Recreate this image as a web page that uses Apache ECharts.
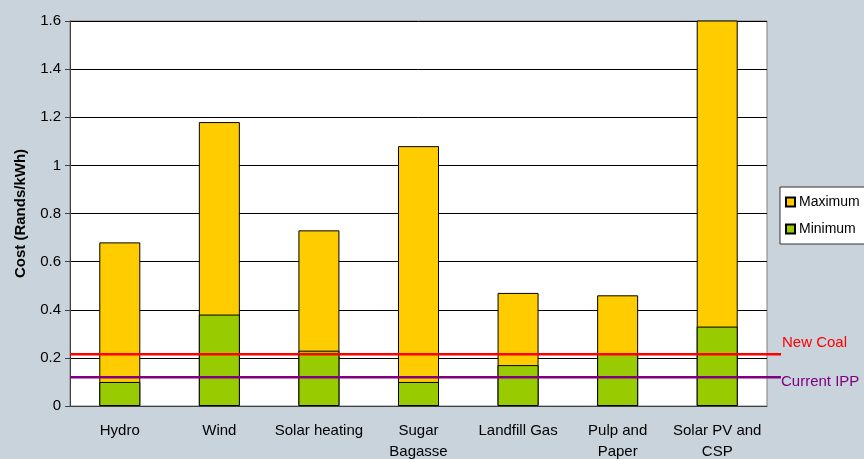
<!DOCTYPE html>
<html>
<head>
<meta charset="utf-8">
<script src="https://cdn.jsdelivr.net/npm/echarts@6/dist/echarts.min.js"></script>
<style>
html,body{margin:0;padding:0;background:#C8D3DB;}
#chart{width:864px;height:459px;}
</style>
</head>
<body>
<div id="chart"></div>
<script>
const categories = ['Hydro', 'Wind', 'Solar heating', 'Sugar\nBagasse', 'Landfill Gas', 'Pulp and\nPaper', 'Solar PV and\nCSP'];
const maximumValues = [0.68, 1.18, 0.73, 1.08, 0.47, 0.46, 1.9];
const minimumValues = [0.10, 0.38, 0.23, 0.10, 0.17, 0.22, 0.33];
const newCoal = 0.215;
const currentIPP = 0.12;
const yTicks = { min: 0, max: 1.6, interval: 0.2 };

const FONT = '"Liberation Sans", Arial, sans-serif';
const chart = echarts.init(document.getElementById('chart'));
chart.setOption({
  animation: false,
  backgroundColor: '#C8D3DB',
  textStyle: { fontFamily: FONT, color: '#000' },
  grid: [
    { left: 70, right: 97, top: 21, bottom: 53, show: true, backgroundColor: '#fff', borderColor: '#808080', borderWidth: 1, outerBoundsMode: 'none', containLabel: false },
    { left: 70, right: 83, top: 21, bottom: 53, outerBoundsMode: 'none', containLabel: false }
  ],
  legend: {
    data: ['Maximum', 'Minimum'],
    orient: 'vertical',
    left: 780, top: 187,
    padding: [8, 8, 8, 5],
    backgroundColor: '#fff',
    borderColor: '#333',
    borderWidth: 1,
    borderRadius: 0,
    itemWidth: 9, itemHeight: 9,
    itemGap: 13,
    icon: 'rect',
    textStyle: { fontFamily: FONT, fontSize: 14, color: '#000', padding: [0, 0, 0, -1] }
  },
  xAxis: [
    {
      type: 'category', data: categories, gridIndex: 0,
      axisLine: { lineStyle: { color: '#404040', width: 1 } },
      axisTick: { show: false },
      axisLabel: { fontFamily: FONT, fontSize: 15, color: '#000', margin: 14, lineHeight: 21, interval: 0 }
    },
    { type: 'value', gridIndex: 1, min: 0, max: 1, show: false }
  ],
  yAxis: [
    {
      type: 'value', gridIndex: 0, min: yTicks.min, max: yTicks.max, interval: yTicks.interval,
      name: 'Cost (Rands/kWh)', nameLocation: 'middle', nameGap: 42, nameRotate: 90,
      nameTextStyle: { fontFamily: FONT, fontSize: 15, fontWeight: 'bold', color: '#000' },
      axisLine: { show: true, lineStyle: { color: '#404040', width: 1 } },
      axisTick: { show: true, length: 5, lineStyle: { color: '#404040' } },
      axisLabel: { fontFamily: FONT, fontSize: 15, color: '#000', margin: 9,
        formatter: v => String(Math.round(v * 10) / 10) },
      splitLine: { show: true, lineStyle: { color: '#000', width: 1 } }
    },
    { type: 'value', gridIndex: 1, min: yTicks.min, max: yTicks.max, show: false }
  ],
  series: [
    {
      name: 'Maximum', type: 'bar', data: maximumValues, barWidth: 41, barGap: '-100%',
      xAxisIndex: 0, yAxisIndex: 0, clip: true, z: 2,
      itemStyle: { color: '#FFCC00', borderColor: '#000', borderWidth: 1 }
    },
    {
      name: 'Minimum', type: 'bar', data: minimumValues, barWidth: 41,
      xAxisIndex: 0, yAxisIndex: 0, clip: true, z: 3,
      itemStyle: { color: '#99CC00', borderColor: '#000', borderWidth: 1 }
    },
    {
      name: 'New Coal', type: 'line', xAxisIndex: 1, yAxisIndex: 1, z: 10,
      data: [[0, newCoal], [1, newCoal]], symbol: 'none',
      lineStyle: { color: '#FF0000', width: 2.5 },
      endLabel: { show: true, formatter: 'New Coal', color: '#FF0000', fontFamily: FONT, fontSize: 15, distance: 1, offset: [0, -11] }
    },
    {
      name: 'Current IPP', type: 'line', xAxisIndex: 1, yAxisIndex: 1, z: 10,
      data: [[0, currentIPP], [1, currentIPP]], symbol: 'none',
      lineStyle: { color: '#800080', width: 2.5 },
      endLabel: { show: true, formatter: 'Current IPP', color: '#800080', fontFamily: FONT, fontSize: 15, distance: 0, offset: [0, 5] }
    }
  ]
});
</script>
</body>
</html>
